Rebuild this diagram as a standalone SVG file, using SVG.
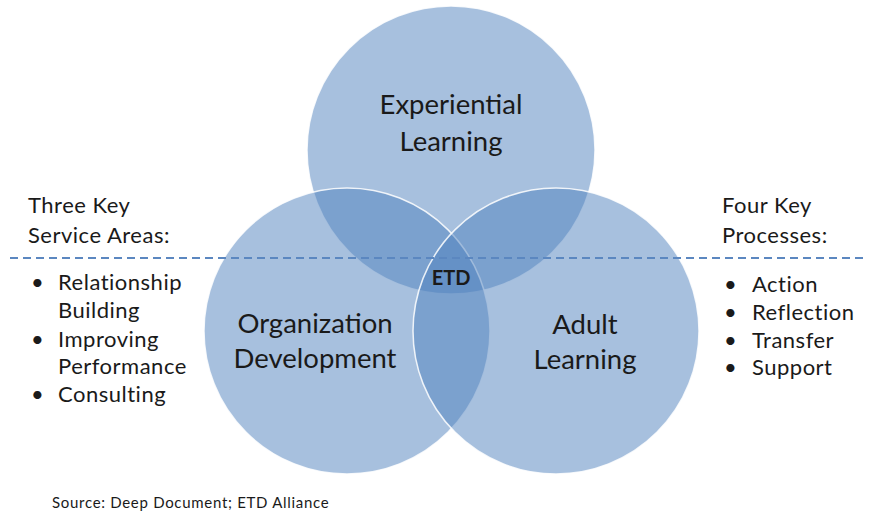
<svg xmlns="http://www.w3.org/2000/svg" width="870" height="515" viewBox="0 0 870 515">
<style>
.c{fill:#4F81BD;fill-opacity:0.5;stroke:#ffffff;stroke-opacity:0.85;stroke-width:1.5}
.lbl{font-family:Lato,"Open Sans","Liberation Sans",sans-serif;font-size:27.5px;fill:#1a1a1a;text-anchor:middle}
.side{font-family:Lato,"Open Sans","Liberation Sans",sans-serif;font-size:22px;fill:#1a1a1a;letter-spacing:0.5px}
.src{font-family:Lato,"Open Sans","Liberation Sans",sans-serif;font-size:15px;fill:#1a1a1a;letter-spacing:0.7px}
</style>
<rect width="870" height="515" fill="#ffffff"/>
<g id="experiential-learning">
<circle class="c" cx="451" cy="150" r="144"/>
</g>
<g id="organization-development">
<circle class="c" cx="347" cy="331" r="143"/>
</g>
<g id="adult-learning">
<circle class="c" cx="556" cy="331" r="143"/>
</g>
<g id="connectors">
<line x1="10" y1="258" x2="866" y2="258" stroke="#5b87c0" stroke-width="1.8" stroke-dasharray="8,5"/>
</g>
<g id="labels">
<text class="lbl" x="451" y="114">Experiential</text>
<text class="lbl" x="451" y="151">Learning</text>
<text class="lbl" x="315" y="333">Organization</text>
<text class="lbl" x="315" y="368">Development</text>
<text class="lbl" x="585" y="334">Adult</text>
<text class="lbl" x="585" y="369">Learning</text>
</g>
<g id="etd">
<text x="451" y="285" font-family="Lato,'Open Sans','Liberation Sans',sans-serif" font-size="20" font-weight="bold" fill="#1a1a1a" text-anchor="middle">ETD</text>
</g>
<g id="service-areas">
<text class="side" x="28" y="213">Three Key</text>
<text class="side" x="28" y="243">Service Areas:</text>
<text class="side" x="31" y="290">•</text>
<text class="side" x="58" y="290">Relationship</text>
<text class="side" x="58" y="318">Building</text>
<text class="side" x="31" y="347">•</text>
<text class="side" x="58" y="347">Improving</text>
<text class="side" x="58" y="374">Performance</text>
<text class="side" x="31" y="402">•</text>
<text class="side" x="58" y="402">Consulting</text>
</g>
<g id="key-processes">
<text class="side" x="722" y="213">Four Key</text>
<text class="side" x="722" y="243">Processes:</text>
<text class="side" x="724" y="292">•</text>
<text class="side" x="752" y="292">Action</text>
<text class="side" x="724" y="320">•</text>
<text class="side" x="752" y="320">Reflection</text>
<text class="side" x="724" y="348">•</text>
<text class="side" x="752" y="348">Transfer</text>
<text class="side" x="724" y="375">•</text>
<text class="side" x="752" y="375">Support</text>
</g>
<g id="source">
<text class="src" x="52" y="508">Source: Deep Document; ETD Alliance</text>
</g>
</svg>
